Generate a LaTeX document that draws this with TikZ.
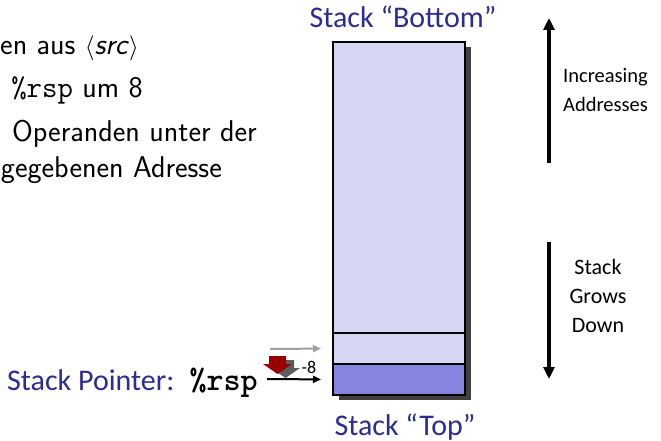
\documentclass[tikz,border=0pt]{standalone}
\usepackage{fontspec}
\newfontfamily\calibri{Carlito}
\usetikzlibrary{arrows.meta}
\definecolor{slideblue}{RGB}{44,44,150}
\definecolor{stacklight}{RGB}{214,214,243}
\definecolor{stackdark}{RGB}{133,133,224}
\definecolor{shadowgray}{RGB}{64,64,64}
\definecolor{arrowred}{RGB}{153,0,0}
\definecolor{lightarrow}{RGB}{160,160,160}
\begin{document}
\begin{tikzpicture}[x=1pt,y=-1pt,
  lefttext/.style={font=\sffamily\fontsize{30}{36}\selectfont, inner sep=0pt, anchor=base east},
  bluelabel/.style={font=\calibri\fontsize{30}{36}\selectfont, text=slideblue, inner sep=0pt},
  sidelabel/.style={font=\calibri\fontsize{20.5}{27}\selectfont, align=center, inner sep=0pt},
  cell/.style={draw=black, line width=2pt, minimum width=132pt, inner sep=0pt},
  ptrarrow/.style={line width=2pt, -{Triangle[length=8pt,width=7pt]}},
  bigarrow/.style={line width=3.5pt, -{Triangle[length=12pt,width=11pt]}}
]
\useasboundingbox (0,0) rectangle (661,441);

% left text (cropped slide text)
\node[lefttext] (l1) at (139,55) {en aus $\langle$\textit{src}$\rangle$};
\node[lefttext] (l2) at (143,98) {\texttt{\%rsp} um 8};
\node[lefttext] (l3) at (257,142) {Operanden unter der};
\node[lefttext] (l4) at (222,177) {gegebenen Adresse};

% stack shadow
\fill[shadowgray] (339,47) rectangle (471,400);
% stack cells
\node[cell, fill=stacklight, minimum height=291pt] (upper) at (399,187.5) {};
\node[cell, fill=stacklight, minimum height=31pt] (mid) at (399,348.5) {};
\node[cell, fill=stackdark, minimum height=31pt] (top) at (399,379.5) {};

% labels
\node[bluelabel, anchor=base] (bottomlabel) at (403,28) {Stack “Bottom”};
\node[bluelabel, anchor=base] (toplabel) at (405,435) {Stack “Top”};
\node[bluelabel, anchor=base west] (sp) at (7,390) {Stack Pointer:};
\node[font=\ttfamily\bfseries\fontsize{32.5}{36}\selectfont, inner sep=0pt, anchor=base east] (rsp) at (258,390) {\%rsp};

% pointer arrows
\coordinate (g0) at (270,349);
\coordinate (b0) at (267,379);
\draw[ptrarrow, lightarrow, shorten >=11pt] (g0) -- (mid.west);
\draw[ptrarrow, black, shorten >=11pt] (b0) -- (top.west);

% red block arrow with shadow
\fill[shadowgray!85] (277,360) -- (294,360) -- (294,368) -- (300,368) -- (285.5,378) -- (271,368) -- (277,368) -- cycle;
\fill[arrowred] (269,356) -- (286,356) -- (286,364) -- (292,364) -- (277.5,374) -- (263,364) -- (269,364) -- cycle;
\node[font=\calibri\fontsize{18}{20}\selectfont, inner sep=0pt, anchor=base] (m8) at (309,373) {-8};

% right side arrows
\coordinate (ua0) at (549,163);
\coordinate (ua1) at (549,18);
\coordinate (da0) at (549,242);
\coordinate (da1) at (549,379);
\draw[bigarrow] (ua0) -- (ua1);
\draw[bigarrow] (da0) -- (da1);
\node[sidelabel, anchor=center] (inc) at (605.5,90) {Increasing\\[1.5pt]Addresses};
\node[sidelabel, font=\calibri\fontsize{22}{29}\selectfont, anchor=center] (grows) at (598,296) {Stack\\Grows\\Down};
\end{tikzpicture}
\end{document}
